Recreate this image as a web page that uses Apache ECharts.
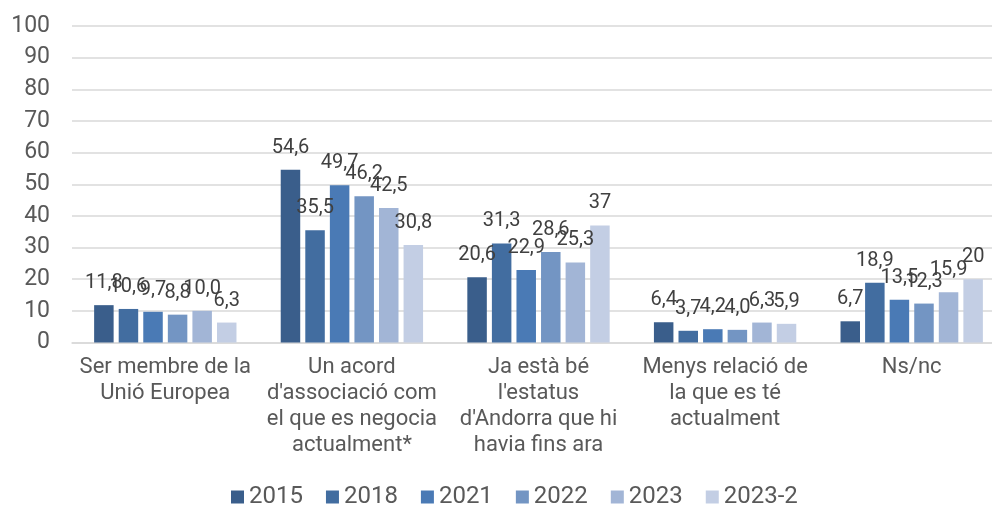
<!DOCTYPE html>
<html>
<head>
<meta charset="utf-8">
<script src="https://cdn.jsdelivr.net/npm/echarts@6/dist/echarts.min.js"></script>
<style>html,body{margin:0;padding:0;background:#fff;overflow:hidden;width:992px;height:508px}#c{width:1005px;height:508px}</style>
</head>
<body>
<div id="c"></div>
<script>
const categories = [
  "Ser membre de la\nUnió Europea",
  "Un acord\nd'associació com\nel que es negocia\nactualment*",
  "Ja està bé\nl'estatus\nd'Andorra que hi\nhavia fins ara",
  "Menys relació de\nla que es té\nactualment",
  "Ns/nc"
];
const seriesNames = ["2015", "2018", "2021", "2022", "2023", "2023-2"];
const v2015 = [11.8, 54.6, 20.6, 6.4, 6.7];
const v2018 = [10.6, 35.5, 31.3, 3.7, 18.9];
const v2021 = [9.7, 49.7, 22.9, 4.2, 13.5];
const v2022 = [8.8, 46.2, 28.6, 4.0, 12.3];
const v2023 = [10.0, 42.5, 25.3, 6.3, 15.9];
const v2023b = [6.3, 30.8, 37, 5.9, 20];
const yTicks = [0, 10, 20, 30, 40, 50, 60, 70, 80, 90, 100];

const values = [v2015, v2018, v2021, v2022, v2023, v2023b];
const colors = ["#3A5E8B", "#426DA0", "#4A7AB5", "#7395C3", "#A2B5D6", "#C3CEE4"];
const FONT = "Roboto";

const chart = echarts.init(document.getElementById('c'), null, {renderer: 'canvas'});
const series = seriesNames.map((name, i) => ({
  name: name,
  type: 'bar',
  data: values[i],
  barWidth: 19.5,
  barGap: '26%',
  itemStyle: {color: colors[i]},
  label: {
    show: true,
    position: 'top',
    distance: 12,
    fontFamily: FONT,
    fontSize: 20,
    color: '#404040',
    formatter: p => (i === 5 ? String(p.value) : p.value.toFixed(1)).replace('.', ',')
  }
}));

chart.setOption({
  animation: false,
  backgroundColor: '#ffffff',
  textStyle: {fontFamily: FONT},
  grid: {left: 72, right: 0, top: 26, bottom: 165.5, containLabel: false},
  legend: {
    data: seriesNames,
    left: 231,
    top: 485,
    padding: 0,
    icon: 'rect',
    itemWidth: 13,
    itemHeight: 13,
    itemGap: 23,
    textStyle: {fontFamily: FONT, fontSize: 24, color: '#595959'}
  },
  xAxis: {
    type: 'category',
    data: categories,
    axisTick: {show: false},
    axisLine: {lineStyle: {color: '#D9D9D9', width: 1.5}},
    axisLabel: {
      interval: 0,
      fontFamily: FONT,
      fontSize: 22,
      lineHeight: 26,
      color: '#595959',
      margin: 12,
      align: 'center'
    }
  },
  yAxis: {
    type: 'value',
    min: yTicks[0],
    max: yTicks[yTicks.length - 1],
    interval: 10,
    axisLine: {show: false},
    axisTick: {show: false},
    splitLine: {lineStyle: {color: '#D9D9D9', width: 1.5}},
    axisLabel: {fontFamily: FONT, fontSize: 23, color: '#595959', margin: 22}
  },
  series: series
});
</script>
</body>
</html>
